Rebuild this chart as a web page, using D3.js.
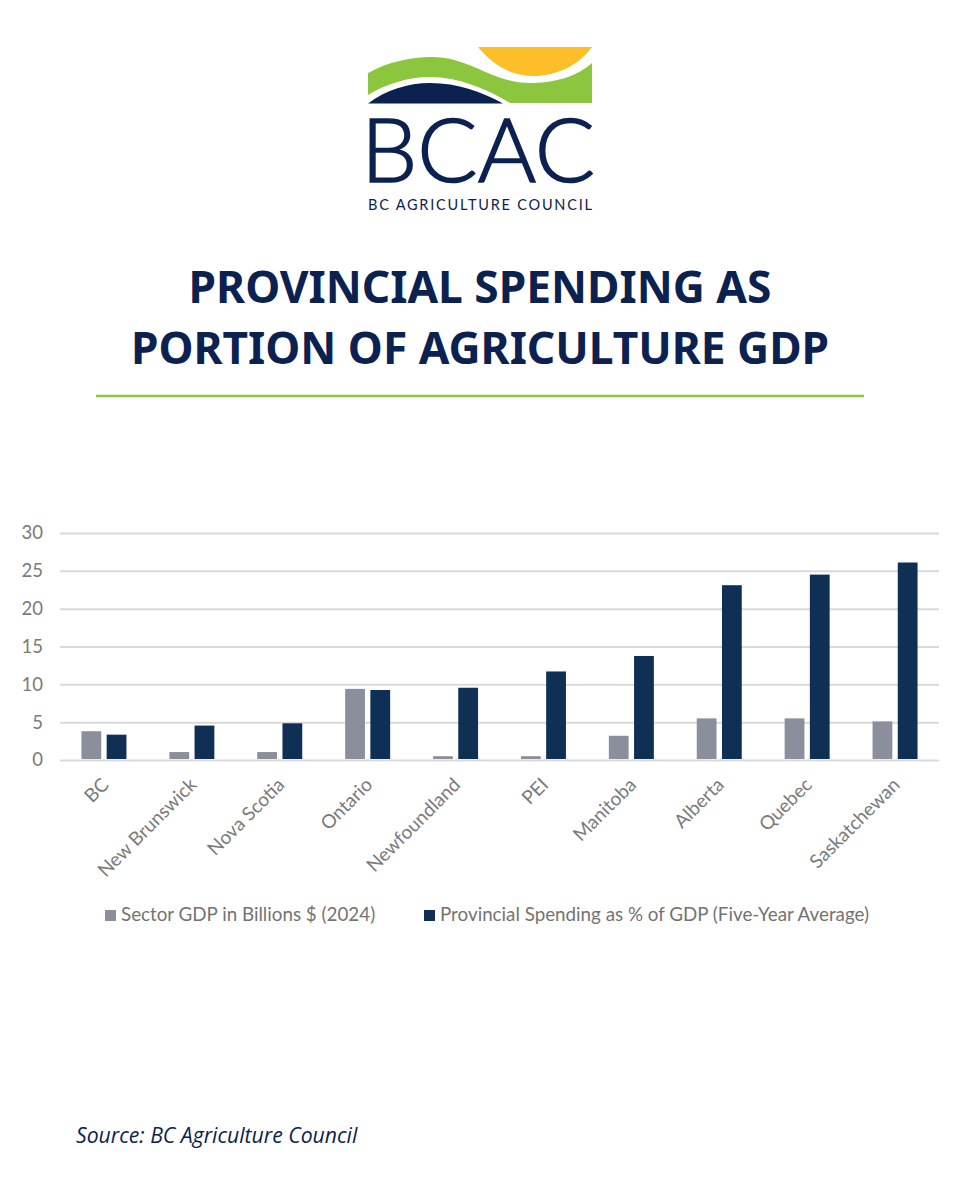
<!DOCTYPE html>
<html>
<head>
<meta charset="utf-8">
<title>Provincial spending as portion of agriculture GDP</title>
<script src="https://cdn.jsdelivr.net/npm/d3@7"></script>
<style>
	html, body { margin: 0; padding: 0; background: #fff; }
	svg { display: block; }
	.axis text { font-family: Lato, sans-serif; fill: #7a7a7a; }
	.legend text { font-family: Lato, sans-serif; font-size: 18.8px; fill: #737373; }
</style>
</head>
<body>
<svg id="chart" width="960" height="1200"></svg>
<script>
// ** Data **
var provinces = ["BC", "New Brunswick", "Nova Scotia", "Ontario", "Newfoundland", "PEI", "Manitoba", "Alberta", "Quebec", "Saskatchewan"];
var sectorGdp = [3.8, 1.05, 1.05, 9.4, 0.5, 0.5, 3.2, 5.5, 5.5, 5.1];
var spendingPct = [3.35, 4.55, 4.85, 9.25, 9.55, 11.7, 13.75, 23.1, 24.5, 26.1];
var yTicks = [0, 5, 10, 15, 20, 25, 30];
var seriesNames = ["Sector GDP in Billions $ (2024)", "Provincial Spending as % of GDP (Five-Year Average)"];
var seriesColors = ["#8a8f9b", "#0f2f55"];
var titleLines = ["PROVINCIAL SPENDING AS", "PORTION OF AGRICULTURE GDP"];

var navy = "#0b2250";
var svg = d3.select("#chart");

// ** Logo **
var logo = svg.append("g");
logo.append("path").attr("fill", "#fdbe28")
	.attr("d", "M478,47 L592,47 C578,66 556,76 533,76 C510,76 492,64 478,47 Z");
logo.append("path").attr("fill", "#8cc63f")
	.attr("d", "M368,73 C388,62 410,57 432,57 C470,57 492,83 530,83 C556,83 578,76 592,63 L592,103 L510,103 C485,88 458,77 430,77 C408,77 386,84 368,95 Z");
logo.append("path").attr("fill", navy)
	.attr("d", "M368,103.5 C386,90 408,83 430,83 C458,83 482,92 503,103.5 Z");
logo.append("text")
	.attr("x", 361).attr("y", 182)
	.attr("textLength", 234).attr("lengthAdjust", "spacingAndGlyphs")
	.style("font-family", "Lato, sans-serif").style("font-size", "88px").style("font-weight", 300)
	.attr("fill", navy).attr("stroke", navy).attr("stroke-width", 1.6)
	.text("BCAC");
logo.append("text")
	.attr("x", 368).attr("y", 210)
	.attr("textLength", 224)
	.style("font-family", "Lato, sans-serif").style("font-size", "14.5px").style("font-weight", 400)
	.attr("fill", navy).text("BC AGRICULTURE COUNCIL");

// ** Title **
svg.selectAll(".title-line").data(titleLines).enter().append("text")
	.attr("class", "title-line")
	.attr("x", 480)
	.attr("y", function(d, i) { return 303 + i * 61; })
	.attr("text-anchor", "middle")
	.style("font-family", "'Noto Sans', sans-serif").style("font-size", "44.3px").style("font-weight", 700)
	.attr("fill", navy)
	.text(function(d) { return d; });

svg.append("line")
	.attr("x1", 96).attr("x2", 864).attr("y1", 396).attr("y2", 396)
	.attr("stroke", "#8cc63f").attr("stroke-width", 2.5);

// ** Scales **
var x = d3.scaleBand().domain(provinces).range([60, 939]);
var y = d3.scaleLinear().domain([0, 30]).range([760, 533]);
var barSpan = 45;
var xInner = d3.scaleBand().domain([0, 1])
	.range([x.bandwidth() / 2 - barSpan / 2, x.bandwidth() / 2 + barSpan / 2])
	.paddingInner(0.215);

// ** Gridlines and y axis **
var yAxis = svg.append("g").attr("class", "axis")
	.attr("transform", "translate(60,0)")
	.call(d3.axisLeft(y).tickValues(yTicks).tickSize(0).tickPadding(17));
yAxis.select(".domain").remove();
yAxis.selectAll("text").style("font-size", "18.5px");
yAxis.selectAll("line")
	.attr("x2", 879)
	.attr("stroke", "#d9d9d9").attr("stroke-width", 2);

// ** Bars **
[sectorGdp, spendingPct].forEach(function(values, s) {
	svg.append("g").selectAll("rect").data(values).enter().append("rect")
		.attr("x", function(d, i) { return x(provinces[i]) + xInner(s); })
		.attr("width", xInner.bandwidth())
		.attr("y", function(d) { return y(d); })
		.attr("height", function(d) { return y(0) - y(d) - 1; })
		.attr("fill", seriesColors[s]);
});

// ** X axis **
var xAxis = svg.append("g").attr("class", "axis")
	.attr("transform", "translate(0,760)")
	.call(d3.axisBottom(x).tickSize(0).tickPadding(0));
xAxis.select(".domain").remove();
xAxis.selectAll("text")
	.attr("text-anchor", "end")
	.attr("dy", 0)
	.attr("transform", "translate(6,26) rotate(-45)")
	.style("font-size", "19px");

// ** Legend **
var legendX = [105, 424];
var legendText = [121, 440];
var legend = svg.append("g").attr("class", "legend");
seriesNames.forEach(function(name, s) {
	legend.append("rect")
		.attr("x", legendX[s]).attr("y", 910).attr("width", 11).attr("height", 11)
		.attr("fill", seriesColors[s]);
	legend.append("text")
		.attr("x", legendText[s]).attr("y", 921)
		.text(name);
});

// ** Source **
svg.append("text")
	.attr("x", 76).attr("y", 1143)
	.style("font-family", "'Open Sans', sans-serif").style("font-size", "21.2px").style("font-style", "italic")
	.attr("fill", navy)
	.text("Source: BC Agriculture Council");
</script>
</body>
</html>
